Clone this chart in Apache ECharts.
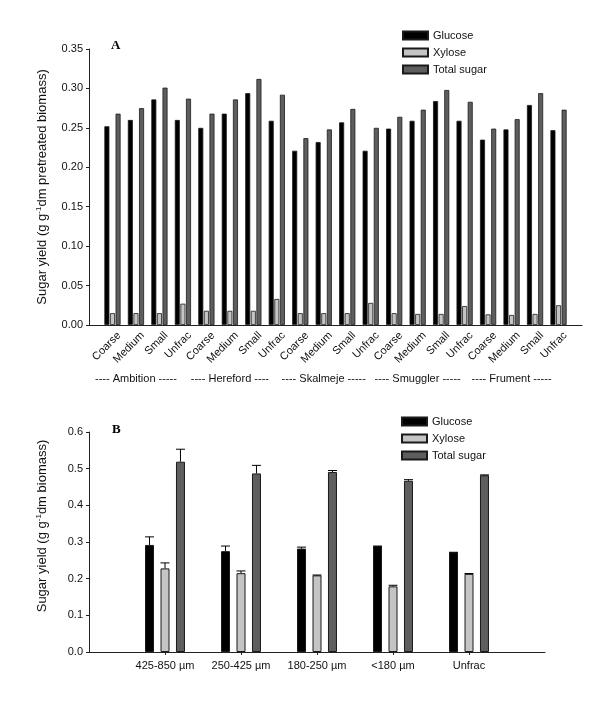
<!DOCTYPE html>
<html><head><meta charset="utf-8">
<script src="https://cdn.jsdelivr.net/npm/echarts@6/dist/echarts.min.js"></script>
<style>html,body{margin:0;padding:0;background:#fff}#c{width:600px;height:715px}</style>
</head><body><div id="c"></div>
<script>
// ---- Panel A data ----
const catsA = ['Coarse','Medium','Small','Unfrac','Coarse','Medium','Small','Unfrac','Coarse','Medium','Small','Unfrac','Coarse','Medium','Small','Unfrac','Coarse','Medium','Small','Unfrac'];
const groupLabelsA = ['---- Ambition -----','---- Hereford ----','---- Skalmeje -----','---- Smuggler -----','---- Frument -----'];
const glucoseA = [0.252,0.260,0.286,0.260, 0.250,0.268,0.294,0.259, 0.221,0.232,0.257,0.221, 0.249,0.259,0.284,0.259, 0.235,0.248,0.279,0.247];
const xyloseA  = [0.015,0.015,0.015,0.027, 0.018,0.018,0.018,0.033, 0.015,0.015,0.015,0.028, 0.015,0.014,0.014,0.024, 0.0135,0.0127,0.014,0.025];
const totalA   = [0.268,0.275,0.301,0.287, 0.268,0.286,0.312,0.292, 0.237,0.248,0.274,0.250, 0.264,0.273,0.298,0.283, 0.249,0.261,0.294,0.273];
const yTicksA = {min:0, max:0.35, interval:0.05};

// ---- Panel B data ----
const catsB = ['425-850 µm','250-425 µm','180-250 µm','<180 µm','Unfrac'];
const glucoseB = [0.292,0.275,0.282,0.289,0.272];
const glucoseErrB = [0.022,0.014,0.004,0.0,0.0];
const xyloseB = [0.228,0.215,0.209,0.179,0.213];
const xyloseErrB = [0.015,0.006,0.001,0.003,0.001];
const totalB = [0.519,0.487,0.491,0.467,0.482];
const totalErrB = [0.034,0.022,0.004,0.003,0.001];
const yTicksB = {min:0, max:0.6, interval:0.1};

const seriesNames = ['Glucose','Xylose','Total sugar'];
const colors = ['#000000','#c4c4c4','#5e5e5e'];
const borderCol = '#1a1a1a';

// padded category arrays (empty slot at each end)
const padA = ['', ...catsA, ''];
const groupAxisA = padA.map(()=> '');
groupLabelsA.forEach((g,i)=>{ groupAxisA[i*4 + 2] = g; });
const padB = ['', ...catsB, ''];
const pad = arr => [null, ...arr, null];

const FONT = 'Liberation Sans, Arial, sans-serif';
const BW_B = 9, GAP_B = 0.72;
const stepB = BW_B * (1 + GAP_B);

function errSeries(name, vals, errs, k) {
  return {
    type:'custom', name: name, xAxisIndex:2, yAxisIndex:1, z:5, silent:true,
    data: vals.map((v,i)=>[i+1, v, errs[i]]),
    renderItem(params, api) {
      const x = api.value(0), v = api.value(1), e = api.value(2);
      const base = api.coord([x, v]);
      const top = api.coord([x, v + e]);
      const cx = base[0] + (k-1)*stepB;
      const hw = BW_B/2;
      return {type:'group', children:[
        {type:'line', shape:{x1:cx, y1:base[1], x2:cx, y2:top[1]}, style:{stroke:'#000', lineWidth:1}},
        {type:'line', shape:{x1:cx-hw, y1:top[1], x2:cx+hw, y2:top[1]}, style:{stroke:'#000', lineWidth:1}}
      ]};
    }
  };
}

const axisLineStyle = {lineStyle:{color:'#222', width:1}};
const yName = (txt) => '{a|Sugar yield (g g}{s|-1}{a|' + txt + ')}';
const nameStyle = (pad) => ({fontFamily:FONT, fontSize:13, color:'#111', padding:pad,
  rich:{a:{fontFamily:FONT, fontSize:13, color:'#111'}, s:{fontFamily:FONT, fontSize:8, color:'#111', verticalAlign:'top', padding:[0,0,7,0]}}});

const option = {
  animation:false,
  backgroundColor:'#fff',
  textStyle:{fontFamily:FONT},
  graphic:[
    {type:'text', left:111, top:39, style:{text:'A', font:'bold 13px "Liberation Serif", "Times New Roman", serif', fill:'#000'}},
    {type:'text', left:112, top:423, style:{text:'B', font:'bold 13px "Liberation Serif", "Times New Roman", serif', fill:'#000'}}
  ],
  legend:[
    {data:seriesNames, orient:'vertical', left:402, top:30, padding:0, itemWidth:25, itemHeight:8, itemGap:6,
     textStyle:{fontFamily:FONT, fontSize:11, color:'#111'}, icon:'rect', selectedMode:false},
    {data:seriesNames, orient:'vertical', left:401, top:416, padding:0, itemWidth:25, itemHeight:8, itemGap:6,
     textStyle:{fontFamily:FONT, fontSize:11, color:'#111'}, icon:'rect', selectedMode:false}
  ],
  grid:[
    {left:89, right:18, top:49, bottom:390, containLabel:false},
    {left:89, right:55, top:432, bottom:63, containLabel:false}
  ],
  xAxis:[
    {type:'category', gridIndex:0, data:padA, boundaryGap:false, axisLine:axisLineStyle,
     axisTick:{show:false},
     axisLabel:{interval:0, rotate:45, fontSize:11, color:'#111', fontFamily:FONT, margin:2,
                verticalAlign:'top', padding:[4,0,0,0]}},
    {type:'category', gridIndex:0, data:groupAxisA, boundaryGap:false, position:'bottom', offset:40,
     axisLine:{show:false}, axisTick:{show:false},
     axisLabel:{interval:0, fontSize:11, color:'#111', fontFamily:FONT, margin:8}},
    {type:'category', gridIndex:1, data:padB, boundaryGap:false, axisLine:axisLineStyle,
     axisTick:{show:true, inside:false, length:3, interval:(i)=> i>0 && i<padB.length-1, lineStyle:{color:'#222'}},
     axisLabel:{interval:0, fontSize:11, color:'#111', fontFamily:FONT, margin:8}}
  ],
  yAxis:[
    {type:'value', gridIndex:0, min:yTicksA.min, max:yTicksA.max, interval:yTicksA.interval,
     axisLine:{show:true, lineStyle:{color:'#222'}}, axisTick:{show:true, length:3, lineStyle:{color:'#222'}},
     splitLine:{show:false},
     axisLabel:{fontSize:11, color:'#111', fontFamily:FONT, margin:6, formatter:v=>v.toFixed(2)},
     name:yName('dm pretreated biomass'), nameLocation:'middle', nameGap:39, nameRotate:90,
     nameTextStyle:nameStyle([0,0,0,0])},
    {type:'value', gridIndex:1, min:yTicksB.min, max:yTicksB.max, interval:yTicksB.interval,
     axisLine:{show:true, lineStyle:{color:'#222'}}, axisTick:{show:true, length:3, lineStyle:{color:'#222'}},
     splitLine:{show:false},
     axisLabel:{fontSize:11, color:'#111', fontFamily:FONT, margin:6, formatter:v=>v.toFixed(1)},
     name:yName('dm biomass'), nameLocation:'middle', nameGap:39, nameRotate:90,
     nameTextStyle:nameStyle([0,0,0,32])}
  ],
  series:[
    ...[glucoseA, xyloseA, totalA].map((d,k)=>({
      type:'bar', name:seriesNames[k], xAxisIndex:0, yAxisIndex:0, data:pad(d),
      barWidth:5, barGap:'12%',
      itemStyle:{color:colors[k], borderColor:borderCol, borderWidth:0.8}
    })),
    ...[glucoseB, xyloseB, totalB].map((d,k)=>({
      type:'bar', name:seriesNames[k], xAxisIndex:2, yAxisIndex:1, data:pad(d),
      barWidth:BW_B, barGap:(GAP_B*100)+'%',
      itemStyle:{color:colors[k], borderColor:borderCol, borderWidth:1}
    })),
    errSeries('Glucose error', glucoseB, glucoseErrB, 0),
    errSeries('Xylose error', xyloseB, xyloseErrB, 1),
    errSeries('Total sugar error', totalB, totalErrB, 2)
  ]
};
const chart = echarts.init(document.getElementById('c'), null, {renderer:'canvas'});
chart.setOption(option);
</script>
</body></html>
